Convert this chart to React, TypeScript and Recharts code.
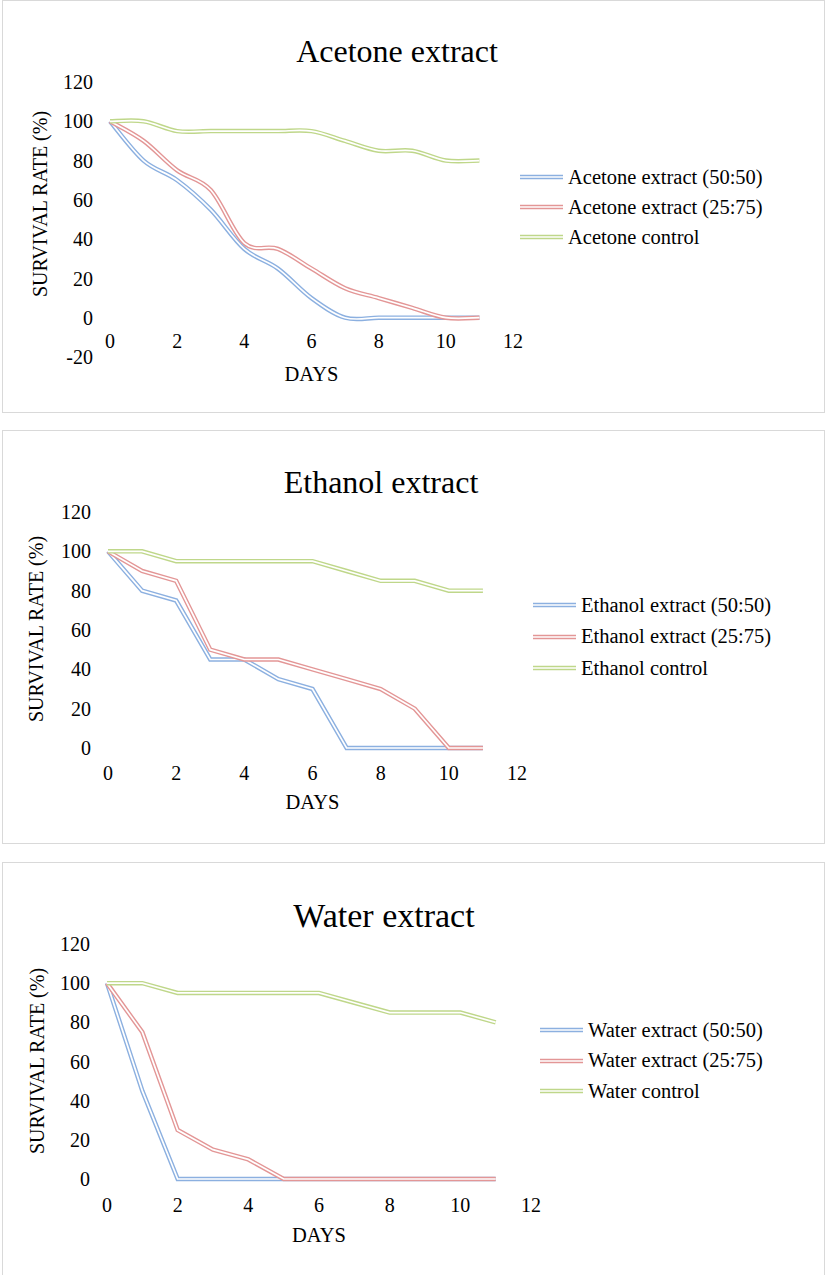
import React from "react";
import { LineChart, Line, XAxis, YAxis, Label } from "recharts";

const days = [0, 1, 2, 3, 4, 5, 6, 7, 8, 9, 10, 11];
const xTicks = [0, 2, 4, 6, 8, 10, 12];
const yTicksAcetone = [-20, 0, 20, 40, 60, 80, 100, 120];
const yTicksOther = [0, 20, 40, 60, 80, 100, 120];

const acetone5050 = [100, 80, 70, 55, 35, 25, 10, 0, 0, 0, 0, 0];
const acetone2575 = [100, 90, 75, 65, 38, 35, 25, 15, 10, 5, 0, 0];
const acetoneControl = [100, 100, 95, 95, 95, 95, 95, 90, 85, 85, 80, 80];

const ethanol5050 = [100, 80, 75, 45, 45, 35, 30, 0, 0, 0, 0, 0];
const ethanol2575 = [100, 90, 85, 50, 45, 45, 40, 35, 30, 20, 0, 0];
const ethanolControl = [100, 100, 95, 95, 95, 95, 95, 90, 85, 85, 80, 80];

const water5050 = [100, 45, 0, 0, 0, 0, 0, 0, 0, 0, 0, 0];
const water2575 = [100, 75, 25, 15, 10, 0, 0, 0, 0, 0, 0, 0];
const waterControl = [100, 100, 95, 95, 95, 95, 95, 90, 85, 85, 85, 80];

const FONT = "'Liberation Serif', 'Times New Roman', serif";
const COLORS = ["#8cb0e0", "#e39696", "#bfd78a"];

// excel style smoothing (catmull-rom, 1/6 tension)
function excelSmooth(context: any) {
  let pts: number[][] = [];
  return {
    areaStart() {},
    areaEnd() {},
    lineStart() {
      pts = [];
    },
    point(x: number, y: number) {
      pts.push([+x, +y]);
    },
    lineEnd() {
      if (!pts.length) return;
      context.moveTo(pts[0][0], pts[0][1]);
      for (let i = 0; i < pts.length - 1; i++) {
        const p0 = pts[i - 1] || pts[i];
        const p1 = pts[i];
        const p2 = pts[i + 1];
        const p3 = pts[i + 2] || p2;
        context.bezierCurveTo(
          p1[0] + (p2[0] - p0[0]) / 6,
          p1[1] + (p2[1] - p0[1]) / 6,
          p2[0] - (p3[0] - p1[0]) / 6,
          p2[1] - (p3[1] - p1[1]) / 6,
          p2[0],
          p2[1]
        );
      }
    },
  };
}

const panels = [
  {
    title: "Acetone extract", titleX: 397, titleBase: 62, titleSize: 32,
    top: 0, plotLeft: 110, plotRight: 513, plotTop: 82, plotBottom: 357,
    yDomain: [-20, 120], yTicks: yTicksAcetone, tickDy: -16, daysY: 374,
    yLabel: [40, 204], legendX: 520, legendY: 177, legendStep: 30,
    names: ["Acetone extract (50:50)", "Acetone extract (25:75)", "Acetone control"],
    series: [acetone5050, acetone2575, acetoneControl], curve: excelSmooth as any,
  },
  {
    title: "Ethanol extract", titleX: 381, titleBase: 63, titleSize: 32,
    top: 430, plotLeft: 108, plotRight: 517, plotTop: 82, plotBottom: 318,
    yDomain: [0, 120], yTicks: yTicksOther, tickDy: 25, daysY: 372,
    yLabel: [36, 199], legendX: 533, legendY: 175, legendStep: 31.5,
    names: ["Ethanol extract (50:50)", "Ethanol extract (25:75)", "Ethanol control"],
    series: [ethanol5050, ethanol2575, ethanolControl], curve: "linear" as any,
  },
  {
    title: "Water extract", titleX: 384, titleBase: 66, titleSize: 34,
    top: 862, plotLeft: 107, plotRight: 531, plotTop: 82, plotBottom: 317,
    yDomain: [0, 120], yTicks: yTicksOther, tickDy: 26, daysY: 373,
    yLabel: [37, 199], legendX: 540, legendY: 168, legendStep: 30.5,
    names: ["Water extract (50:50)", "Water extract (25:75)", "Water control"],
    series: [water5050, water2575, waterControl], curve: "linear" as any,
  },
];

const W = 827;
const H = 413;

function Panel({ p }: { p: (typeof panels)[number] }) {
  const data = days.map((d, i) => ({ day: d, s0: p.series[0][i], s1: p.series[1][i], s2: p.series[2][i] }));
  const xAxisH = 20;
  const xTick = (props: any) => (
    <text x={props.x} y={props.y + p.tickDy} textAnchor="middle" dominantBaseline="central" fontSize={20} fontFamily={FONT} fill="#000">
      {props.payload.value}
    </text>
  );
  return (
    <div style={{ position: "absolute", left: 0, top: p.top, width: W, height: H }}>
      <div style={{ position: "absolute", left: 2, top: 0, width: 823, height: H + (p.top ? 1 : 0), boxSizing: "border-box", border: "1px solid #d9d9d9" }} />
      <div style={{ position: "absolute", left: p.titleX - 250, width: 500, top: p.titleBase - p.titleSize * 0.85, textAlign: "center", fontFamily: FONT, fontSize: p.titleSize, lineHeight: `${p.titleSize}px`, color: "#000", whiteSpace: "nowrap" }}>
        {p.title}
      </div>
      <div style={{ position: "absolute", left: 0, top: 0 }}>
        <LineChart
          width={W}
          height={H}
          data={data}
          margin={{ top: p.plotTop, left: 0, right: W - p.plotRight, bottom: H - p.plotBottom - xAxisH }}
          style={{ fontFamily: FONT }}
        >
          <XAxis
            dataKey="day"
            type="number"
            domain={[0, 12]}
            ticks={xTicks}
            axisLine={false}
            tickLine={false}
            tickSize={0}
            tickMargin={0}
            height={xAxisH}
            tick={xTick}
            interval={0}
          >
            <Label
              content={() => (
                <text x={(p.plotLeft + p.plotRight) / 2} y={p.daysY} textAnchor="middle" dominantBaseline="central" fontSize={20.5} fontFamily={FONT} fill="#000">
                  DAYS
                </text>
              )}
            />
          </XAxis>
          <YAxis
            type="number"
            domain={p.yDomain}
            ticks={p.yTicks}
            width={p.plotLeft}
            axisLine={false}
            tickLine={false}
            tickSize={0}
            tickMargin={17}
            interval={0}
            tick={{ fontSize: 20, fill: "#000", fontFamily: FONT }}
          >
            <Label
              content={() => (
                <text
                  x={p.yLabel[0]}
                  y={p.yLabel[1]}
                  transform={`rotate(-90 ${p.yLabel[0]} ${p.yLabel[1]})`}
                  textAnchor="middle"
                  dominantBaseline="central"
                  fontSize={20}
                  fontFamily={FONT}
                  fill="#000"
                >
                  SURVIVAL RATE (%)
                </text>
              )}
            />
          </YAxis>
          {[0, 1, 2].flatMap((k) => [
            <Line key={`c${k}`} dataKey={`s${k}`} type={p.curve} stroke={COLORS[k]} strokeWidth={4.5} dot={false} activeDot={false} isAnimationActive={false} />,
            <Line key={`w${k}`} dataKey={`s${k}`} type={p.curve} stroke="#ffffff" strokeWidth={1.7} dot={false} activeDot={false} isAnimationActive={false} />,
          ])}
        </LineChart>
      </div>
      {p.names.map((n, k) => (
        <div
          key={n}
          style={{ position: "absolute", left: p.legendX, top: p.legendY + k * p.legendStep - 15, height: 30, display: "flex", alignItems: "center", whiteSpace: "nowrap" }}
        >
          <svg width={43} height={8} style={{ marginRight: 5 }}>
            <line x1={0} y1={4} x2={43} y2={4} stroke={COLORS[k]} strokeWidth={4.5} />
            <line x1={0} y1={4} x2={43} y2={4} stroke="#fff" strokeWidth={1.7} />
          </svg>
          <span style={{ fontFamily: FONT, fontSize: 20.5, color: "#000" }}>{n}</span>
        </div>
      ))}
    </div>
  );
}

export default function App() {
  return (
    <div style={{ position: "absolute", left: 0, top: 0, width: W, height: 1275, background: "#fff", overflow: "hidden" }}>
      {panels.map((p) => (
        <Panel key={p.title} p={p} />
      ))}
    </div>
  );
}
